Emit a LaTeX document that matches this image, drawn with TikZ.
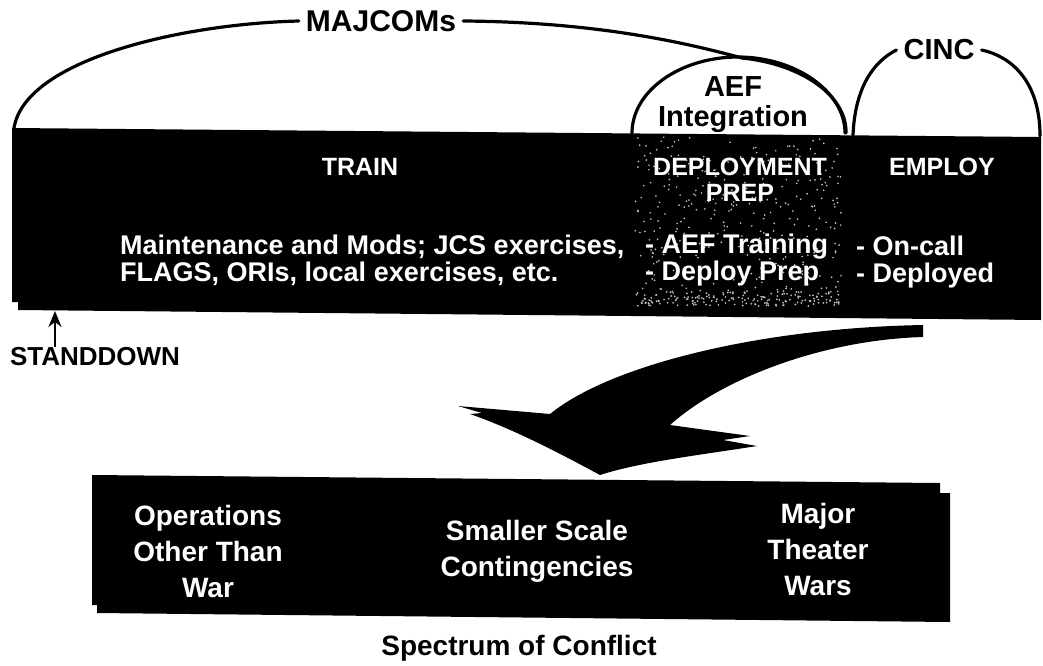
\documentclass[tikz,border=0pt]{standalone}
\usepackage{fontspec}
\setmainfont{Liberation Sans}
\usetikzlibrary{arrows.meta}

\tikzset{
  head/.style={text=white,font=\bfseries\fontsize{25}{26}\selectfont,align=center},
  items/.style={text=white,font=\bfseries\fontsize{27}{27}\selectfont,align=left,anchor=west,inner sep=0pt},
  label/.style={font=\bfseries\fontsize{29}{30}\selectfont,align=center,inner sep=7pt},
  band/.style={text=white,font=\bfseries\fontsize{28}{36}\selectfont,align=center},
  bracket/.style={line width=3.2pt,line cap=round},
}

\begin{document}
\begin{tikzpicture}[x=1pt,y=-1pt]
\useasboundingbox (0,0) rectangle (1043,665);

% phase bar (two stacked sheets)
\fill (12,128) -- (1041,137) -- (1041,320) -- (18,310) -- (18,302) -- (12,302) -- cycle;

% deployment prep panel, grainy
\fill[black] (634,134) -- (842,136) -- (842,308) -- (634,306) -- cycle;
\pgfmathsetseed{42}
\foreach \i in {1,...,380}{
  \fill[white!75!black] ({635+206*rnd},{137+169*rnd}) circle (0.95);
}
\foreach \i in {1,...,140}{
  \fill[white!75!black] ({635+206*rnd},{291+15*rnd}) circle (1);
}

% phase headings
\node[head] (train) at (360,167) {TRAIN};
\node[head] (deploy) at (740,180) {DEPLOYMENT\\PREP};
\node[head] (employ) at (942,167) {EMPLOY};

\node[items] (trainlist) at (120,260) {Maintenance and Mods; JCS exercises,\\FLAGS, ORIs, local exercises, etc.};
\node[items] (deploylist) at (645,260) {- AEF Training\\- Deploy Prep};
\node[items] (employlist) at (856,262) {- On-call\\- Deployed};

% brackets over the bar
\node[label,font=\bfseries\fontsize{30}{30}\selectfont] (majcoms) at (381,21) {MAJCOMs};
\node[label,inner sep=0pt] (aef) at (733,105) {AEF\\Integration};
\node[label] (cinc) at (939,50) {CINC};

\coordinate (majL) at (14,128);
\coordinate (majR) at (846,133);
\coordinate (aefL) at (632,133);
\coordinate (aefR) at (845,133);
\coordinate (cincL) at (853,135);
\coordinate (cincR) at (1040,136);

\draw[bracket] (majL) .. controls (25,60) and (180,24) .. (majcoms.west);
\draw[bracket] (majcoms.east) .. controls (600,22) and (690,44) .. (742,58)
  .. controls (802,64) and (847,96) .. (majR);
\draw[bracket] (aefL) .. controls (632,91) and (680,57) .. (738,57)
  .. controls (796,57) and (845,92) .. (aefR);
\draw[bracket] (cincL) .. controls (855,88) and (873,62) .. (cinc.west);
\draw[bracket] (cinc.east) .. controls (1010,56) and (1040,80) .. (cincR);

% stand-down marker
\node[font=\bfseries\fontsize{26}{26}\selectfont,inner sep=1pt] (standdown) at (95,357) {STANDDOWN};
\coordinate (sdtip) at (55,311);
\draw[line width=2.8pt,-{Stealth[length=16pt,width=13pt]}] (standdown.north -| sdtip) -- (sdtip);

% sweep down to the spectrum
\fill (923,325) -- (923,337) .. controls (820,340) and (720,380) .. (670,425)
  -- (750,436) -- (723,440) -- (757,446)
  .. controls (700,455) and (640,462) .. (600,475)
  .. controls (550,448) and (510,428) .. (470,414) -- (482,413) -- (458,406)
  -- (550,414) .. controls (610,365) and (760,328) .. (923,325) -- cycle;

% spectrum band (two stacked sheets)
\fill (92,475) -- (940,483) -- (940,493) -- (950,493) -- (950,622) -- (97,613)
  -- (97,605) -- (92,605) -- cycle;

\node[band] (ootw) at (208,551) {Operations\\Other Than\\War};
\node[band] (ssc) at (537,551) {Smaller Scale\\Contingencies};
\node[band] (mtw) at (818,549) {Major\\Theater\\Wars};

\node[font=\bfseries\fontsize{28}{30}\selectfont] (spectrum) at (519,648) {Spectrum of Conflict};
\end{tikzpicture}
\end{document}
